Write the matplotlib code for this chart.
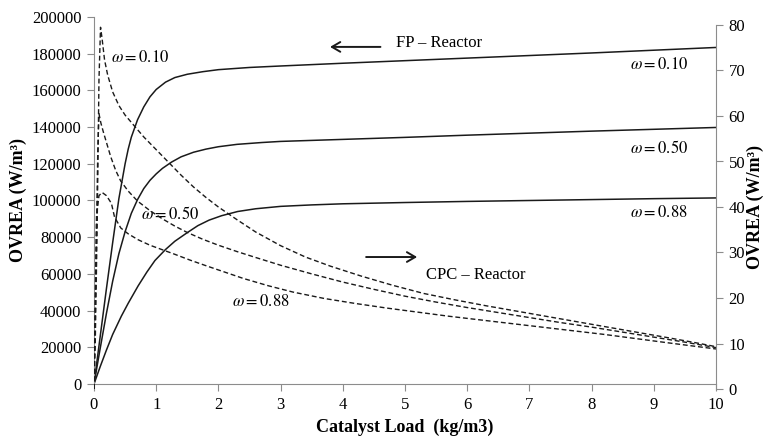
import matplotlib
matplotlib.use("Agg")
import matplotlib.pyplot as plt

plt.rcParams["font.family"] = ["Liberation Serif", "DejaVu Serif"]
plt.rcParams["mathtext.fontset"] = "stix"

# --- datos ---
# FP-Reactor (eje izquierdo, W/m3)
fp_x_010 = [0, 0.1, 0.2, 0.3, 0.4, 0.5, 0.55, 0.6, 0.7, 0.8, 0.9, 1.0, 1.15, 1.3, 1.5,
            1.75, 2.0, 2.5, 3, 4, 5, 6, 7, 8, 9, 10]
fp_y_010 = [0, 26000, 52000, 77000, 101000, 120000, 128000, 134500, 144000, 151000,
            156500, 160500, 164500, 167000, 168800, 170200, 171300, 172500, 173300,
            174800, 176200, 177600, 179000, 180400, 181900, 183400]

fp_x_050 = [0, 0.1, 0.2, 0.3, 0.4, 0.5, 0.6, 0.7, 0.8, 0.9, 1.0, 1.1, 1.25, 1.4, 1.6,
            1.8, 2.0, 2.3, 2.7, 3, 4, 5, 6, 7, 8, 9, 10]
fp_y_050 = [0, 19500, 38500, 56000, 71000, 83000, 93000, 100500, 106500, 111000,
            114500, 117500, 121000, 123800, 126300, 128000, 129300, 130600, 131600,
            132200, 133300, 134400, 135600, 136700, 137800, 138800, 139800]

fp_x_088 = [0, 0.1, 0.2, 0.3, 0.44, 0.55, 0.71, 0.85, 0.98, 1.15, 1.3, 1.5, 1.67, 1.85,
            2.05, 2.31, 2.6, 3, 3.5, 4, 5, 6, 7, 8, 9, 10]
fp_y_088 = [0, 9500, 18500, 27000, 37000, 44000, 53500, 61000, 67300, 73300, 77800,
            82500, 86300, 89300, 91700, 94000, 95500, 96800, 97600, 98200, 98900,
            99500, 100000, 100500, 101000, 101400]

# CPC-Reactor (eje derecho, W/m3)
cpc_x_010 = [0, 0.02, 0.05, 0.08, 0.105, 0.13, 0.17, 0.22, 0.3, 0.4, 0.5, 0.65, 0.8,
             1.0, 1.2, 1.4, 1.6, 1.8, 2.0, 2.3, 2.6, 3.0, 3.4, 3.8, 4.3, 4.8, 5.3,
             5.8, 6.3, 6.8, 7.3, 7.8, 8.3, 8.8, 9.3, 9.7, 10]
cpc_y_010 = [0, 10, 35, 68, 79.5, 77, 72.3, 69, 65.3, 62.3, 60.2, 57.8, 55.4,
             52.6, 49.8, 47, 44.4, 42.1, 40, 37.2, 34.5, 31.5, 29, 27, 24.8, 22.8, 21.0,
             19.6, 18.3, 17.1, 15.9, 14.7, 13.5, 12.3, 11.1, 10.1, 9.3]

cpc_x_050 = [0, 0.03, 0.06, 0.08, 0.11, 0.15, 0.2, 0.27, 0.35, 0.43, 0.55, 0.7, 0.9,
             1.1, 1.3, 1.5, 1.75, 2.0, 2.3, 2.6, 3.0, 3.5, 4.0, 4.5, 5.0, 5.5, 6.0,
             6.5, 7.0, 7.5, 8.0, 8.5, 9.0, 9.5, 10]
cpc_y_050 = [0, 25, 52, 60.5, 58.5, 56.5, 54.2, 51, 48, 45.7, 43.5, 41.3, 39.2,
             37.4, 35.8, 34.4, 32.9, 31.6, 30.2, 28.9, 27.2, 25.3, 23.5, 21.9, 20.4,
             19.1, 17.9, 16.8, 15.7, 14.6, 13.6, 12.5, 11.4, 10.3, 9.1]

cpc_x_088 = [0, 0.02, 0.04, 0.08, 0.13, 0.2, 0.28, 0.33, 0.43, 0.55, 0.71, 0.9, 1.1,
             1.3, 1.55, 1.8, 2.1, 2.4, 2.8, 3.2, 3.7, 4.2, 4.7, 5.2, 5.7, 6.2, 6.7,
             7.2, 7.7, 8.2, 8.7, 9.2, 9.6, 10]
cpc_y_088 = [0, 20, 38, 42.5, 43.2, 42.5, 40.8, 37.8, 35.4, 34.1, 32.8, 31.6, 30.6,
             29.6, 28.3, 27.1, 25.7, 24.3, 22.7, 21.3, 19.9, 18.8, 17.8, 16.9, 16.0,
             15.2, 14.4, 13.6, 12.8, 12.0, 11.1, 10.2, 9.5, 8.8]

left_ticks = list(range(0, 200001, 20000))
right_ticks = list(range(0, 81, 10))
x_ticks = list(range(0, 11))

gris = "#8c8c8c"
negro = "#1a1a1a"

fig = plt.figure(figsize=(7.7, 4.36), dpi=100)
ax = fig.add_axes([94 / 770, 52 / 436, 622 / 770, 367 / 436])
ax2 = fig.add_axes([94 / 770, 47 / 436, 622 / 770, 364 / 436], sharex=ax)
ax2.patch.set_visible(False)

# curvas FP (solidas)
for xs, ys in [(fp_x_010, fp_y_010), (fp_x_050, fp_y_050), (fp_x_088, fp_y_088)]:
    ax.plot(xs, ys, color=negro, lw=1.1)

# curvas CPC (discontinuas)
for xs, ys in [(cpc_x_010, cpc_y_010), (cpc_x_050, cpc_y_050), (cpc_x_088, cpc_y_088)]:
    ax2.plot(xs, ys, color=negro, lw=1.0, dashes=(3.5, 2))

ax.set_xlim(0, 10)
ax.set_ylim(0, 200000)
ax2.set_ylim(0, 80)
ax.set_xticks(x_ticks)
ax.set_yticks(left_ticks)
ax2.set_yticks(right_ticks)

for s in ["top", "right"]:
    ax.spines[s].set_visible(False)
for s in ["left", "bottom"]:
    ax.spines[s].set_color(gris)
for s in ["top", "left", "bottom"]:
    ax2.spines[s].set_visible(False)
ax2.spines["right"].set_color(gris)

ax.tick_params(axis="both", direction="out", length=5, color=gris, labelsize=12, pad=4)
ax2.yaxis.tick_right()
ax2.yaxis.set_label_position("right")
ax2.tick_params(axis="y", direction="out", length=5, color=gris, labelsize=12, pad=4)
ax2.tick_params(axis="x", bottom=False, labelbottom=False)

ax.set_xlabel("Catalyst Load  (kg/m3)", fontsize=13, fontweight="bold")
ax.set_ylabel("OVREA (W/m³)", fontsize=13, fontweight="bold")
ax2.set_ylabel("OVREA (W/m³)", fontsize=13, fontweight="bold", rotation=90)
ax.xaxis.set_label_coords(0.5, -0.095)
ax.yaxis.set_label_coords(-0.108, 0.5)
ax2.yaxis.set_label_coords(1.05, 0.5)

# etiquetas
fs = 12
ax.text(0.27, 177700, r"$\omega = 0.10$", fontsize=fs, va="center")
ax.text(0.76, 92100, r"$\omega = 0.50$", fontsize=fs, va="center")
ax.text(2.22, 44700, r"$\omega = 0.88$", fontsize=fs, va="center")
ax.text(8.62, 173800, r"$\omega = 0.10$", fontsize=fs, va="center")
ax.text(8.62, 128600, r"$\omega = 0.50$", fontsize=fs, va="center")
ax.text(8.62, 93200, r"$\omega = 0.88$", fontsize=fs, va="center")

ax.text(4.86, 185800, "FP – Reactor", fontsize=fs, va="center")
ax.annotate("", xy=(3.75, 183700), xytext=(4.65, 183700),
            arrowprops=dict(arrowstyle="->,head_length=0.6,head_width=0.35", lw=1.4, color=negro))
ax.text(5.34, 59400, "CPC – Reactor", fontsize=fs, va="center")
ax.annotate("", xy=(5.24, 69200), xytext=(4.33, 69200),
            arrowprops=dict(arrowstyle="->,head_length=0.6,head_width=0.35", lw=1.4, color=negro))

fig.savefig("out.png", dpi=100)
